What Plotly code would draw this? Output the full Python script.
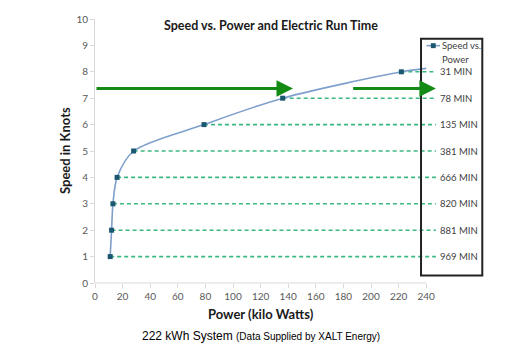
import plotly.graph_objects as go

# Data
power_kw = [11, 12, 13, 16, 28, 79, 136, 222]
speed_knots = [1, 2, 3, 4, 5, 6, 7, 8]
run_time_labels = ["969 MIN", "881 MIN", "820 MIN", "666 MIN", "381 MIN", "135 MIN", "78 MIN", "31 MIN"]
curve_end_power = 240
curve_end_speed = 8.13
dash_end_power = 247
arrow_speed = 7.37
arrow1_from, arrow1_to = 0, 143.5
arrow2_from, arrow2_to = 186, 247
x_ticks = list(range(0, 241, 20))
y_ticks = list(range(0, 11, 1))
legend_lines = ["Speed vs.", "Power"]

FONT = "Lato"
GRID = "#d9d9d9"
DASH = "#3cb882"
ARROW = "#138a13"
LINE = "#7f9fcc"
MARK = "#1b5770"

fig = go.Figure()

# dashed green guide lines
for p, s in zip(power_kw, speed_knots):
    fig.add_trace(go.Scatter(x=[p, dash_end_power], y=[s, s], mode="lines",
                             line=dict(color=DASH, width=1.6, dash="4px,3px"),
                             hoverinfo="skip", showlegend=False))

# smooth curve
fig.add_trace(go.Scatter(x=power_kw + [curve_end_power], y=speed_knots + [curve_end_speed],
                         mode="lines", line=dict(color=LINE, width=1.6, shape="spline", smoothing=0.8),
                         showlegend=False))
fig.add_trace(go.Scatter(x=power_kw, y=speed_knots, mode="markers",
                         marker=dict(symbol="square", size=5, color=MARK),
                         showlegend=False, name="Speed vs. Power"))

# x axis line (0..240)
fig.add_shape(type="line", xref="x", yref="paper", x0=0, x1=240, y0=0, y1=0,
              line=dict(color=GRID, width=1))

# run-time labels
for s, lab in zip(speed_knots, run_time_labels):
    fig.add_annotation(x=dash_end_power, y=s, xref="x", yref="y", text=lab, showarrow=False,
                       xanchor="left", xshift=2, font=dict(family=FONT, size=9.5, color="#404040"))

# green arrows
for a0, a1 in [(arrow1_from, arrow1_to), (arrow2_from, arrow2_to)]:
    fig.add_annotation(x=a1, y=arrow_speed, ax=a0, ay=arrow_speed, xref="x", yref="y",
                       axref="x", ayref="y", showarrow=True, arrowhead=2, arrowsize=1.1,
                       arrowwidth=3, arrowcolor=ARROW, text="")

# legend box (manual)
fig.add_shape(type="rect", xref="paper", yref="paper", x0=0.945, x1=1.1226, y0=0.0286, y1=0.925,
              line=dict(color="#222222", width=2), fillcolor="rgba(0,0,0,0)")
fig.add_shape(type="line", xref="paper", yref="paper", x0=0.961, x1=1.0, y0=0.899, y1=0.899,
              line=dict(color=LINE, width=1.6))
fig.add_shape(type="rect", xref="paper", yref="paper", x0=0.9735, x1=0.9875, y0=0.8896, y1=0.9084,
              line=dict(width=0), fillcolor=MARK)
for i, t in enumerate(legend_lines):
    fig.add_annotation(xref="paper", yref="paper", x=1.0, xshift=0, y=0.899, yshift=-14 * i,
                       text=t, showarrow=False, xanchor="left", yanchor="middle", align="left",
                       font=dict(family=FONT, size=9.5, color="#404040"))

# titles
fig.add_annotation(xref="paper", yref="paper", x=0.509, y=1.0, yshift=-6, yanchor="middle",
                   text="<b>Speed vs. Power and Electric Run Time</b>", showarrow=False,
                   font=dict(family=FONT, size=12.5, color="#1a1a1a"))
fig.add_annotation(xref="x", yref="paper", x=120, y=0, yshift=-31, yanchor="middle",
                   text="<b>Power (kilo Watts)</b>", showarrow=False,
                   font=dict(family=FONT, size=13, color="#1a1a1a"))
fig.add_annotation(xref="paper", yref="paper", x=0, xshift=-30, xanchor="center", y=0.5, textangle=-90,
                   text="<b>Speed in Knots</b>", showarrow=False,
                   font=dict(family=FONT, size=13, color="#1a1a1a"))
fig.add_annotation(xref="x", yref="paper", x=120, y=0, yshift=-53, yanchor="middle",
                   text="222 kWh System <span style='font-size:10px'>(Data Supplied by XALT Energy)</span>",
                   showarrow=False, font=dict(family="Liberation Sans", size=12, color="#000000"))

fig.update_layout(
    width=525, height=354,
    margin=dict(l=95, r=85, t=17, b=71),
    paper_bgcolor="white", plot_bgcolor="white",
    showlegend=False,
    xaxis=dict(range=[0, 250], tickvals=x_ticks, showgrid=False, zeroline=False, showline=False,
               ticks="outside", ticklen=4, tickcolor=GRID,
               tickfont=dict(family=FONT, size=10, color="#595959")),
    yaxis=dict(range=[0, 10], tickvals=y_ticks, showgrid=False, zeroline=False, showline=True,
               linecolor=GRID, linewidth=1, ticks="outside", ticklen=4, tickcolor=GRID,
               tickfont=dict(family=FONT, size=10, color="#595959")),
)

fig.write_html("out.html")
